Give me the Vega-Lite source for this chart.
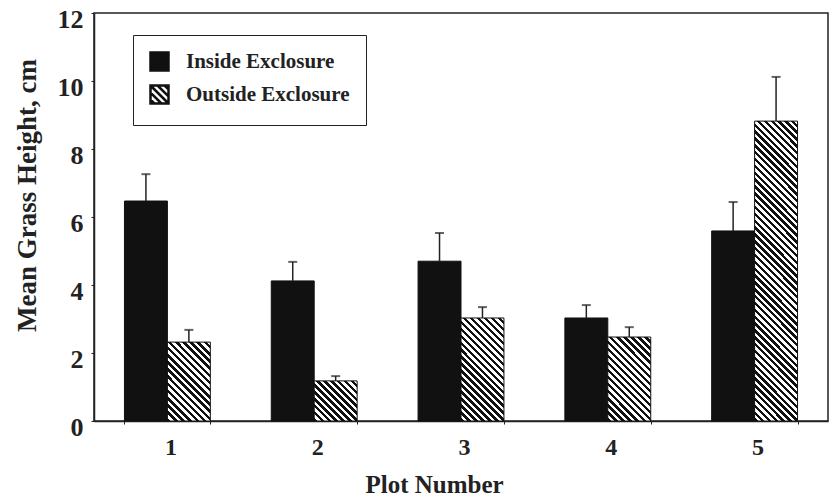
{
  "$schema": "https://vega.github.io/schema/vega-lite/v6.json",
  "autosize": {"type": "none"},
  "padding": {"left": 94, "top": 13, "right": 5, "bottom": 77},
  "width": 734,
  "height": 408,
  "background": "white",
  "config": {
    "view": {"stroke": "#222", "strokeWidth": 1.5},
    "font": "Liberation Serif",
    "axis": {"domainColor": "#222", "domainWidth": 1.5, "tickColor": "#222", "labelColor": "#222", "titleColor": "#222", "labelFont": "Liberation Serif", "titleFont": "Liberation Serif", "labelFontWeight": "bold", "titleFontWeight": "bold", "grid": false}
  },
  "data": {
    "values": [
      {"plot": "1", "group": "Inside Exclosure", "value": 6.47, "upper": 7.26},
      {"plot": "1", "group": "Outside Exclosure", "value": 2.32, "upper": 2.68},
      {"plot": "2", "group": "Inside Exclosure", "value": 4.12, "upper": 4.68},
      {"plot": "2", "group": "Outside Exclosure", "value": 1.18, "upper": 1.32},
      {"plot": "3", "group": "Inside Exclosure", "value": 4.7, "upper": 5.53},
      {"plot": "3", "group": "Outside Exclosure", "value": 3.03, "upper": 3.35},
      {"plot": "4", "group": "Inside Exclosure", "value": 3.03, "upper": 3.41},
      {"plot": "4", "group": "Outside Exclosure", "value": 2.47, "upper": 2.76},
      {"plot": "5", "group": "Inside Exclosure", "value": 5.59, "upper": 6.44},
      {"plot": "5", "group": "Outside Exclosure", "value": 8.82, "upper": 10.12}
    ]
  },
  "encoding": {
    "x": {"field": "plot", "type": "nominal", "sort": ["1", "2", "3", "4", "5"],
      "scale": {"paddingInner": 0.415, "paddingOuter": 0.2075},
      "axis": {"title": "Plot Number", "labelAngle": 0, "labelFontSize": 24, "labelPadding": 11, "labelOffset": 3, "tickSize": 3, "tickBand": "extent", "titleFontSize": 25, "titleX": 340, "titleY": 71, "titleBaseline": "alphabetic", "titleAlign": "center"}},
    "xOffset": {"field": "group", "type": "nominal", "scale": {"domain": ["Inside Exclosure", "Outside Exclosure"], "paddingInner": 0, "paddingOuter": 0}},
    "y": {"field": "value", "type": "quantitative",
      "scale": {"domain": [0, 12], "nice": false, "zero": true},
      "axis": {"title": "Mean Grass Height, cm", "values": [0, 2, 4, 6, 8, 10, 12], "labelFontSize": 26, "labelOffset": 6, "labelPadding": 8, "tickSize": 3, "titleFontSize": 27, "titleAngle": 270, "titleX": -67, "titleY": 182, "titleAlign": "center", "titleBaseline": "middle"}}
  },
  "layer": [
    {
      "transform": [{"filter": "datum.group === 'Inside Exclosure'"}],
      "mark": {"type": "bar", "stroke": "#111", "strokeWidth": 1, "opacity": 1},
      "encoding": {
        "color": {"field": "group", "type": "nominal",
          "scale": {"domain": ["Inside Exclosure", "Outside Exclosure"], "range": ["#111", "#ffffff"]},
          "legend": {"orient": "none", "legendX": 39, "legendY": 22, "title": null, "padding": 16, "strokeColor": "#222", "fillColor": "white",
            "symbolType": "M-1,-1H1V1H-1ZM-1,-1L1,1M-0.22,-1L1,0.22M0.56,-1L1,-0.56M-1,-0.22L0.22,1M-1,0.56L-0.56,1",
            "symbolSize": 324, "symbolStrokeColor": "#111", "symbolStrokeWidth": 2.5, "symbolOpacity": 1, "labelFont": "Liberation Serif", "labelFontWeight": "bold", "labelFontSize": 21, "labelColor": "#222", "rowPadding": 4, "labelOffset": 16, "labelLimit": 300}
        }
      }
    },
    {
      "transform": [{"filter": "datum.group === 'Outside Exclosure' && datum.plot === '1'"}],
      "mark": {"type": "bar", "stroke": "#111", "strokeWidth": 1, "fill": {"gradient": "linear", "x1": 0, "y1": 1, "x2": 0.6493, "y2": -0.1912, "stops": [
        {"offset":0.0294,"color":"#111"},{"offset":0.0294,"color":"#fff"},
        {"offset":0.0588,"color":"#fff"},{"offset":0.0588,"color":"#111"},
        {"offset":0.0882,"color":"#111"},{"offset":0.0882,"color":"#fff"},
        {"offset":0.1176,"color":"#fff"},{"offset":0.1176,"color":"#111"},
        {"offset":0.1471,"color":"#111"},{"offset":0.1471,"color":"#fff"},
        {"offset":0.1765,"color":"#fff"},{"offset":0.1765,"color":"#111"},
        {"offset":0.2059,"color":"#111"},{"offset":0.2059,"color":"#fff"},
        {"offset":0.2353,"color":"#fff"},{"offset":0.2353,"color":"#111"},
        {"offset":0.2647,"color":"#111"},{"offset":0.2647,"color":"#fff"},
        {"offset":0.2941,"color":"#fff"},{"offset":0.2941,"color":"#111"},
        {"offset":0.3235,"color":"#111"},{"offset":0.3235,"color":"#fff"},
        {"offset":0.3529,"color":"#fff"},{"offset":0.3529,"color":"#111"},
        {"offset":0.3824,"color":"#111"},{"offset":0.3824,"color":"#fff"},
        {"offset":0.4118,"color":"#fff"},{"offset":0.4118,"color":"#111"},
        {"offset":0.4412,"color":"#111"},{"offset":0.4412,"color":"#fff"},
        {"offset":0.4706,"color":"#fff"},{"offset":0.4706,"color":"#111"},
        {"offset":0.5,"color":"#111"},{"offset":0.5,"color":"#fff"},
        {"offset":0.5294,"color":"#fff"},{"offset":0.5294,"color":"#111"},
        {"offset":0.5588,"color":"#111"},{"offset":0.5588,"color":"#fff"},
        {"offset":0.5882,"color":"#fff"},{"offset":0.5882,"color":"#111"},
        {"offset":0.6176,"color":"#111"},{"offset":0.6176,"color":"#fff"},
        {"offset":0.6471,"color":"#fff"},{"offset":0.6471,"color":"#111"},
        {"offset":0.6765,"color":"#111"},{"offset":0.6765,"color":"#fff"},
        {"offset":0.7059,"color":"#fff"},{"offset":0.7059,"color":"#111"},
        {"offset":0.7353,"color":"#111"},{"offset":0.7353,"color":"#fff"},
        {"offset":0.7647,"color":"#fff"},{"offset":0.7647,"color":"#111"},
        {"offset":0.7941,"color":"#111"},{"offset":0.7941,"color":"#fff"},
        {"offset":0.8235,"color":"#fff"},{"offset":0.8235,"color":"#111"},
        {"offset":0.8529,"color":"#111"},{"offset":0.8529,"color":"#fff"},
        {"offset":0.8824,"color":"#fff"},{"offset":0.8824,"color":"#111"},
        {"offset":0.9118,"color":"#111"},{"offset":0.9118,"color":"#fff"},
        {"offset":0.9412,"color":"#fff"},{"offset":0.9412,"color":"#111"},
        {"offset":0.9706,"color":"#111"},{"offset":0.9706,"color":"#fff"}
      ]}},
      "encoding": {}
    },
    {
      "transform": [{"filter": "datum.group === 'Outside Exclosure' && datum.plot === '2'"}],
      "mark": {"type": "bar", "stroke": "#111", "strokeWidth": 1, "fill": {"gradient": "linear", "x1": 0, "y1": 1, "x2": 1.0334, "y2": 0.0358, "stops": [
        {"offset":0.0417,"color":"#111"},{"offset":0.0417,"color":"#fff"},
        {"offset":0.0833,"color":"#fff"},{"offset":0.0833,"color":"#111"},
        {"offset":0.125,"color":"#111"},{"offset":0.125,"color":"#fff"},
        {"offset":0.1667,"color":"#fff"},{"offset":0.1667,"color":"#111"},
        {"offset":0.2083,"color":"#111"},{"offset":0.2083,"color":"#fff"},
        {"offset":0.25,"color":"#fff"},{"offset":0.25,"color":"#111"},
        {"offset":0.2917,"color":"#111"},{"offset":0.2917,"color":"#fff"},
        {"offset":0.3333,"color":"#fff"},{"offset":0.3333,"color":"#111"},
        {"offset":0.375,"color":"#111"},{"offset":0.375,"color":"#fff"},
        {"offset":0.4167,"color":"#fff"},{"offset":0.4167,"color":"#111"},
        {"offset":0.4583,"color":"#111"},{"offset":0.4583,"color":"#fff"},
        {"offset":0.5,"color":"#fff"},{"offset":0.5,"color":"#111"},
        {"offset":0.5417,"color":"#111"},{"offset":0.5417,"color":"#fff"},
        {"offset":0.5833,"color":"#fff"},{"offset":0.5833,"color":"#111"},
        {"offset":0.625,"color":"#111"},{"offset":0.625,"color":"#fff"},
        {"offset":0.6667,"color":"#fff"},{"offset":0.6667,"color":"#111"},
        {"offset":0.7083,"color":"#111"},{"offset":0.7083,"color":"#fff"},
        {"offset":0.75,"color":"#fff"},{"offset":0.75,"color":"#111"},
        {"offset":0.7917,"color":"#111"},{"offset":0.7917,"color":"#fff"},
        {"offset":0.8333,"color":"#fff"},{"offset":0.8333,"color":"#111"},
        {"offset":0.875,"color":"#111"},{"offset":0.875,"color":"#fff"},
        {"offset":0.9167,"color":"#fff"},{"offset":0.9167,"color":"#111"},
        {"offset":0.9583,"color":"#111"},{"offset":0.9583,"color":"#fff"}
      ]}},
      "encoding": {}
    },
    {
      "transform": [{"filter": "datum.group === 'Outside Exclosure' && datum.plot === '3'"}],
      "mark": {"type": "bar", "stroke": "#111", "strokeWidth": 1, "fill": {"gradient": "linear", "x1": 0, "y1": 1, "x2": 0.5038, "y2": -0.2071, "stops": [
        {"offset":0.0238,"color":"#111"},{"offset":0.0238,"color":"#fff"},
        {"offset":0.0476,"color":"#fff"},{"offset":0.0476,"color":"#111"},
        {"offset":0.0714,"color":"#111"},{"offset":0.0714,"color":"#fff"},
        {"offset":0.0952,"color":"#fff"},{"offset":0.0952,"color":"#111"},
        {"offset":0.119,"color":"#111"},{"offset":0.119,"color":"#fff"},
        {"offset":0.1429,"color":"#fff"},{"offset":0.1429,"color":"#111"},
        {"offset":0.1667,"color":"#111"},{"offset":0.1667,"color":"#fff"},
        {"offset":0.1905,"color":"#fff"},{"offset":0.1905,"color":"#111"},
        {"offset":0.2143,"color":"#111"},{"offset":0.2143,"color":"#fff"},
        {"offset":0.2381,"color":"#fff"},{"offset":0.2381,"color":"#111"},
        {"offset":0.2619,"color":"#111"},{"offset":0.2619,"color":"#fff"},
        {"offset":0.2857,"color":"#fff"},{"offset":0.2857,"color":"#111"},
        {"offset":0.3095,"color":"#111"},{"offset":0.3095,"color":"#fff"},
        {"offset":0.3333,"color":"#fff"},{"offset":0.3333,"color":"#111"},
        {"offset":0.3571,"color":"#111"},{"offset":0.3571,"color":"#fff"},
        {"offset":0.381,"color":"#fff"},{"offset":0.381,"color":"#111"},
        {"offset":0.4048,"color":"#111"},{"offset":0.4048,"color":"#fff"},
        {"offset":0.4286,"color":"#fff"},{"offset":0.4286,"color":"#111"},
        {"offset":0.4524,"color":"#111"},{"offset":0.4524,"color":"#fff"},
        {"offset":0.4762,"color":"#fff"},{"offset":0.4762,"color":"#111"},
        {"offset":0.5,"color":"#111"},{"offset":0.5,"color":"#fff"},
        {"offset":0.5238,"color":"#fff"},{"offset":0.5238,"color":"#111"},
        {"offset":0.5476,"color":"#111"},{"offset":0.5476,"color":"#fff"},
        {"offset":0.5714,"color":"#fff"},{"offset":0.5714,"color":"#111"},
        {"offset":0.5952,"color":"#111"},{"offset":0.5952,"color":"#fff"},
        {"offset":0.619,"color":"#fff"},{"offset":0.619,"color":"#111"},
        {"offset":0.6429,"color":"#111"},{"offset":0.6429,"color":"#fff"},
        {"offset":0.6667,"color":"#fff"},{"offset":0.6667,"color":"#111"},
        {"offset":0.6905,"color":"#111"},{"offset":0.6905,"color":"#fff"},
        {"offset":0.7143,"color":"#fff"},{"offset":0.7143,"color":"#111"},
        {"offset":0.7381,"color":"#111"},{"offset":0.7381,"color":"#fff"},
        {"offset":0.7619,"color":"#fff"},{"offset":0.7619,"color":"#111"},
        {"offset":0.7857,"color":"#111"},{"offset":0.7857,"color":"#fff"},
        {"offset":0.8095,"color":"#fff"},{"offset":0.8095,"color":"#111"},
        {"offset":0.8333,"color":"#111"},{"offset":0.8333,"color":"#fff"},
        {"offset":0.8571,"color":"#fff"},{"offset":0.8571,"color":"#111"},
        {"offset":0.881,"color":"#111"},{"offset":0.881,"color":"#fff"},
        {"offset":0.9048,"color":"#fff"},{"offset":0.9048,"color":"#111"},
        {"offset":0.9286,"color":"#111"},{"offset":0.9286,"color":"#fff"},
        {"offset":0.9524,"color":"#fff"},{"offset":0.9524,"color":"#111"},
        {"offset":0.9762,"color":"#111"},{"offset":0.9762,"color":"#fff"}
      ]}},
      "encoding": {}
    },
    {
      "transform": [{"filter": "datum.group === 'Outside Exclosure' && datum.plot === '4'"}],
      "mark": {"type": "bar", "stroke": "#111", "strokeWidth": 1, "fill": {"gradient": "linear", "x1": 0, "y1": 1, "x2": 0.6134, "y2": -0.198, "stops": [
        {"offset":0.0278,"color":"#111"},{"offset":0.0278,"color":"#fff"},
        {"offset":0.0556,"color":"#fff"},{"offset":0.0556,"color":"#111"},
        {"offset":0.0833,"color":"#111"},{"offset":0.0833,"color":"#fff"},
        {"offset":0.1111,"color":"#fff"},{"offset":0.1111,"color":"#111"},
        {"offset":0.1389,"color":"#111"},{"offset":0.1389,"color":"#fff"},
        {"offset":0.1667,"color":"#fff"},{"offset":0.1667,"color":"#111"},
        {"offset":0.1944,"color":"#111"},{"offset":0.1944,"color":"#fff"},
        {"offset":0.2222,"color":"#fff"},{"offset":0.2222,"color":"#111"},
        {"offset":0.25,"color":"#111"},{"offset":0.25,"color":"#fff"},
        {"offset":0.2778,"color":"#fff"},{"offset":0.2778,"color":"#111"},
        {"offset":0.3056,"color":"#111"},{"offset":0.3056,"color":"#fff"},
        {"offset":0.3333,"color":"#fff"},{"offset":0.3333,"color":"#111"},
        {"offset":0.3611,"color":"#111"},{"offset":0.3611,"color":"#fff"},
        {"offset":0.3889,"color":"#fff"},{"offset":0.3889,"color":"#111"},
        {"offset":0.4167,"color":"#111"},{"offset":0.4167,"color":"#fff"},
        {"offset":0.4444,"color":"#fff"},{"offset":0.4444,"color":"#111"},
        {"offset":0.4722,"color":"#111"},{"offset":0.4722,"color":"#fff"},
        {"offset":0.5,"color":"#fff"},{"offset":0.5,"color":"#111"},
        {"offset":0.5278,"color":"#111"},{"offset":0.5278,"color":"#fff"},
        {"offset":0.5556,"color":"#fff"},{"offset":0.5556,"color":"#111"},
        {"offset":0.5833,"color":"#111"},{"offset":0.5833,"color":"#fff"},
        {"offset":0.6111,"color":"#fff"},{"offset":0.6111,"color":"#111"},
        {"offset":0.6389,"color":"#111"},{"offset":0.6389,"color":"#fff"},
        {"offset":0.6667,"color":"#fff"},{"offset":0.6667,"color":"#111"},
        {"offset":0.6944,"color":"#111"},{"offset":0.6944,"color":"#fff"},
        {"offset":0.7222,"color":"#fff"},{"offset":0.7222,"color":"#111"},
        {"offset":0.75,"color":"#111"},{"offset":0.75,"color":"#fff"},
        {"offset":0.7778,"color":"#fff"},{"offset":0.7778,"color":"#111"},
        {"offset":0.8056,"color":"#111"},{"offset":0.8056,"color":"#fff"},
        {"offset":0.8333,"color":"#fff"},{"offset":0.8333,"color":"#111"},
        {"offset":0.8611,"color":"#111"},{"offset":0.8611,"color":"#fff"},
        {"offset":0.8889,"color":"#fff"},{"offset":0.8889,"color":"#111"},
        {"offset":0.9167,"color":"#111"},{"offset":0.9167,"color":"#fff"},
        {"offset":0.9444,"color":"#fff"},{"offset":0.9444,"color":"#111"},
        {"offset":0.9722,"color":"#111"},{"offset":0.9722,"color":"#fff"}
      ]}},
      "encoding": {}
    },
    {
      "transform": [{"filter": "datum.group === 'Outside Exclosure' && datum.plot === '5'"}],
      "mark": {"type": "bar", "stroke": "#111", "strokeWidth": 1, "fill": {"gradient": "linear", "x1": 0, "y1": 1, "x2": 0.16065, "y2": -0.12036, "stops": [
        {"offset":0.01,"color":"#111"},{"offset":0.01,"color":"#fff"},
        {"offset":0.02,"color":"#fff"},{"offset":0.02,"color":"#111"},
        {"offset":0.03,"color":"#111"},{"offset":0.03,"color":"#fff"},
        {"offset":0.04,"color":"#fff"},{"offset":0.04,"color":"#111"},
        {"offset":0.05,"color":"#111"},{"offset":0.05,"color":"#fff"},
        {"offset":0.06,"color":"#fff"},{"offset":0.06,"color":"#111"},
        {"offset":0.07,"color":"#111"},{"offset":0.07,"color":"#fff"},
        {"offset":0.08,"color":"#fff"},{"offset":0.08,"color":"#111"},
        {"offset":0.09,"color":"#111"},{"offset":0.09,"color":"#fff"},
        {"offset":0.10,"color":"#fff"},{"offset":0.10,"color":"#111"},
        {"offset":0.11,"color":"#111"},{"offset":0.11,"color":"#fff"},
        {"offset":0.12,"color":"#fff"},{"offset":0.12,"color":"#111"},
        {"offset":0.13,"color":"#111"},{"offset":0.13,"color":"#fff"},
        {"offset":0.14,"color":"#fff"},{"offset":0.14,"color":"#111"},
        {"offset":0.15,"color":"#111"},{"offset":0.15,"color":"#fff"},
        {"offset":0.16,"color":"#fff"},{"offset":0.16,"color":"#111"},
        {"offset":0.17,"color":"#111"},{"offset":0.17,"color":"#fff"},
        {"offset":0.18,"color":"#fff"},{"offset":0.18,"color":"#111"},
        {"offset":0.19,"color":"#111"},{"offset":0.19,"color":"#fff"},
        {"offset":0.20,"color":"#fff"},{"offset":0.20,"color":"#111"},
        {"offset":0.21,"color":"#111"},{"offset":0.21,"color":"#fff"},
        {"offset":0.22,"color":"#fff"},{"offset":0.22,"color":"#111"},
        {"offset":0.23,"color":"#111"},{"offset":0.23,"color":"#fff"},
        {"offset":0.24,"color":"#fff"},{"offset":0.24,"color":"#111"},
        {"offset":0.25,"color":"#111"},{"offset":0.25,"color":"#fff"},
        {"offset":0.26,"color":"#fff"},{"offset":0.26,"color":"#111"},
        {"offset":0.27,"color":"#111"},{"offset":0.27,"color":"#fff"},
        {"offset":0.28,"color":"#fff"},{"offset":0.28,"color":"#111"},
        {"offset":0.29,"color":"#111"},{"offset":0.29,"color":"#fff"},
        {"offset":0.30,"color":"#fff"},{"offset":0.30,"color":"#111"},
        {"offset":0.31,"color":"#111"},{"offset":0.31,"color":"#fff"},
        {"offset":0.32,"color":"#fff"},{"offset":0.32,"color":"#111"},
        {"offset":0.33,"color":"#111"},{"offset":0.33,"color":"#fff"},
        {"offset":0.34,"color":"#fff"},{"offset":0.34,"color":"#111"},
        {"offset":0.35,"color":"#111"},{"offset":0.35,"color":"#fff"},
        {"offset":0.36,"color":"#fff"},{"offset":0.36,"color":"#111"},
        {"offset":0.37,"color":"#111"},{"offset":0.37,"color":"#fff"},
        {"offset":0.38,"color":"#fff"},{"offset":0.38,"color":"#111"},
        {"offset":0.39,"color":"#111"},{"offset":0.39,"color":"#fff"},
        {"offset":0.40,"color":"#fff"},{"offset":0.40,"color":"#111"},
        {"offset":0.41,"color":"#111"},{"offset":0.41,"color":"#fff"},
        {"offset":0.42,"color":"#fff"},{"offset":0.42,"color":"#111"},
        {"offset":0.43,"color":"#111"},{"offset":0.43,"color":"#fff"},
        {"offset":0.44,"color":"#fff"},{"offset":0.44,"color":"#111"},
        {"offset":0.45,"color":"#111"},{"offset":0.45,"color":"#fff"},
        {"offset":0.46,"color":"#fff"},{"offset":0.46,"color":"#111"},
        {"offset":0.47,"color":"#111"},{"offset":0.47,"color":"#fff"},
        {"offset":0.48,"color":"#fff"},{"offset":0.48,"color":"#111"},
        {"offset":0.49,"color":"#111"},{"offset":0.49,"color":"#fff"},
        {"offset":0.50,"color":"#fff"},{"offset":0.50,"color":"#111"},
        {"offset":0.51,"color":"#111"},{"offset":0.51,"color":"#fff"},
        {"offset":0.52,"color":"#fff"},{"offset":0.52,"color":"#111"},
        {"offset":0.53,"color":"#111"},{"offset":0.53,"color":"#fff"},
        {"offset":0.54,"color":"#fff"},{"offset":0.54,"color":"#111"},
        {"offset":0.55,"color":"#111"},{"offset":0.55,"color":"#fff"},
        {"offset":0.56,"color":"#fff"},{"offset":0.56,"color":"#111"},
        {"offset":0.57,"color":"#111"},{"offset":0.57,"color":"#fff"},
        {"offset":0.58,"color":"#fff"},{"offset":0.58,"color":"#111"},
        {"offset":0.59,"color":"#111"},{"offset":0.59,"color":"#fff"},
        {"offset":0.60,"color":"#fff"},{"offset":0.60,"color":"#111"},
        {"offset":0.61,"color":"#111"},{"offset":0.61,"color":"#fff"},
        {"offset":0.62,"color":"#fff"},{"offset":0.62,"color":"#111"},
        {"offset":0.63,"color":"#111"},{"offset":0.63,"color":"#fff"},
        {"offset":0.64,"color":"#fff"},{"offset":0.64,"color":"#111"},
        {"offset":0.65,"color":"#111"},{"offset":0.65,"color":"#fff"},
        {"offset":0.66,"color":"#fff"},{"offset":0.66,"color":"#111"},
        {"offset":0.67,"color":"#111"},{"offset":0.67,"color":"#fff"},
        {"offset":0.68,"color":"#fff"},{"offset":0.68,"color":"#111"},
        {"offset":0.69,"color":"#111"},{"offset":0.69,"color":"#fff"},
        {"offset":0.70,"color":"#fff"},{"offset":0.70,"color":"#111"},
        {"offset":0.71,"color":"#111"},{"offset":0.71,"color":"#fff"},
        {"offset":0.72,"color":"#fff"},{"offset":0.72,"color":"#111"},
        {"offset":0.73,"color":"#111"},{"offset":0.73,"color":"#fff"},
        {"offset":0.74,"color":"#fff"},{"offset":0.74,"color":"#111"},
        {"offset":0.75,"color":"#111"},{"offset":0.75,"color":"#fff"},
        {"offset":0.76,"color":"#fff"},{"offset":0.76,"color":"#111"},
        {"offset":0.77,"color":"#111"},{"offset":0.77,"color":"#fff"},
        {"offset":0.78,"color":"#fff"},{"offset":0.78,"color":"#111"},
        {"offset":0.79,"color":"#111"},{"offset":0.79,"color":"#fff"},
        {"offset":0.80,"color":"#fff"},{"offset":0.80,"color":"#111"},
        {"offset":0.81,"color":"#111"},{"offset":0.81,"color":"#fff"},
        {"offset":0.82,"color":"#fff"},{"offset":0.82,"color":"#111"},
        {"offset":0.83,"color":"#111"},{"offset":0.83,"color":"#fff"},
        {"offset":0.84,"color":"#fff"},{"offset":0.84,"color":"#111"},
        {"offset":0.85,"color":"#111"},{"offset":0.85,"color":"#fff"},
        {"offset":0.86,"color":"#fff"},{"offset":0.86,"color":"#111"},
        {"offset":0.87,"color":"#111"},{"offset":0.87,"color":"#fff"},
        {"offset":0.88,"color":"#fff"},{"offset":0.88,"color":"#111"},
        {"offset":0.89,"color":"#111"},{"offset":0.89,"color":"#fff"},
        {"offset":0.90,"color":"#fff"},{"offset":0.90,"color":"#111"},
        {"offset":0.91,"color":"#111"},{"offset":0.91,"color":"#fff"},
        {"offset":0.92,"color":"#fff"},{"offset":0.92,"color":"#111"},
        {"offset":0.93,"color":"#111"},{"offset":0.93,"color":"#fff"},
        {"offset":0.94,"color":"#fff"},{"offset":0.94,"color":"#111"},
        {"offset":0.95,"color":"#111"},{"offset":0.95,"color":"#fff"},
        {"offset":0.96,"color":"#fff"},{"offset":0.96,"color":"#111"},
        {"offset":0.97,"color":"#111"},{"offset":0.97,"color":"#fff"},
        {"offset":0.98,"color":"#fff"},{"offset":0.98,"color":"#111"},
        {"offset":0.99,"color":"#111"},{"offset":0.99,"color":"#fff"}
      ]}},
      "encoding": {}
    },
    {
      "mark": {"type": "rule", "color": "#222", "strokeWidth": 1.5},
      "encoding": {"y2": {"field": "upper"}}
    },
    {
      "mark": {"type": "tick", "orient": "horizontal", "color": "#222", "size": 9, "thickness": 2},
      "encoding": {"y": {"field": "upper", "type": "quantitative"}}
    }
  ]
}
